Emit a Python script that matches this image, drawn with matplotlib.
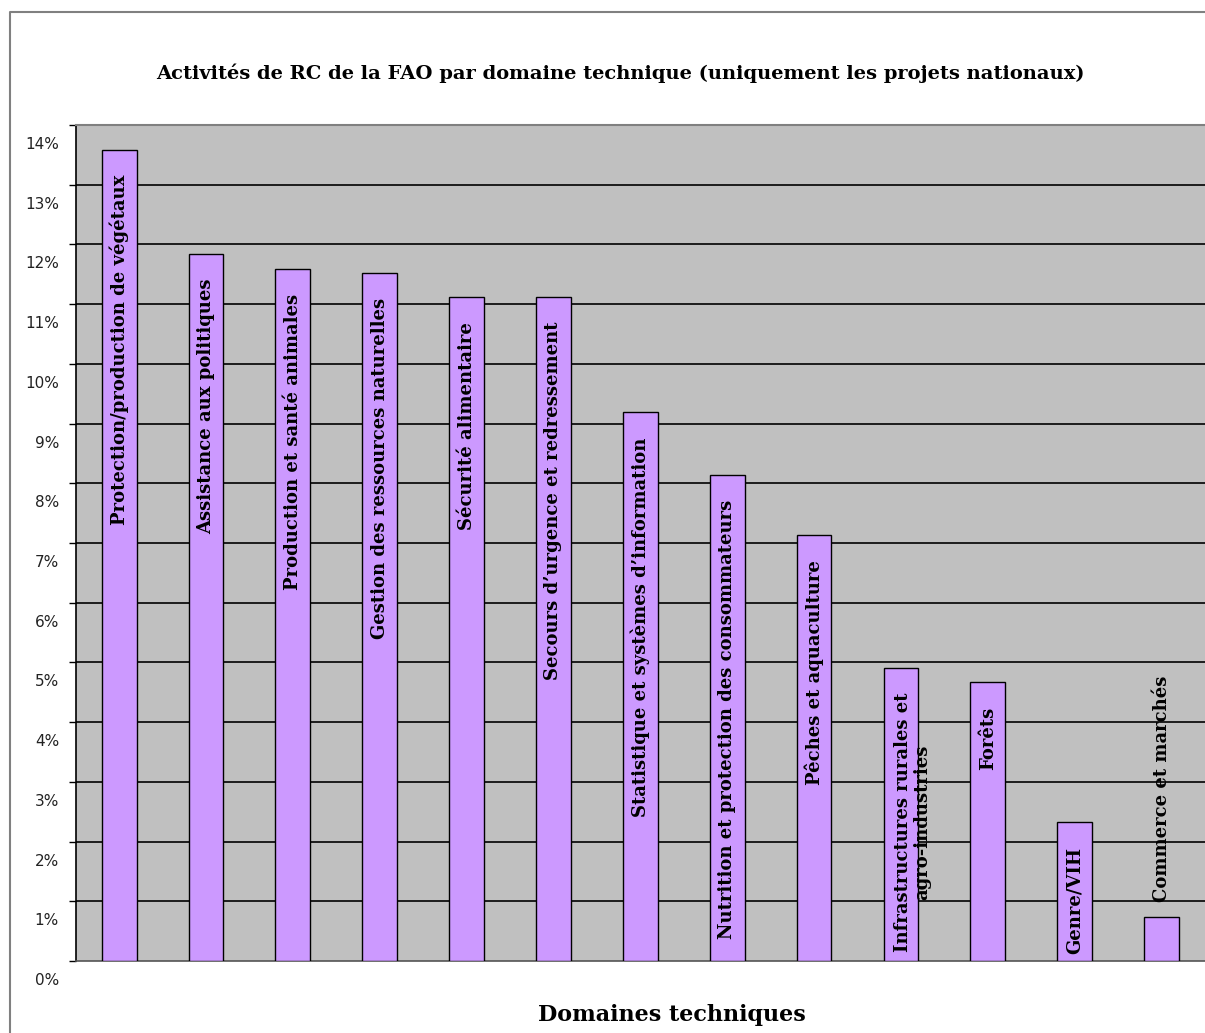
import matplotlib
matplotlib.use("Agg")
import matplotlib.pyplot as plt
from matplotlib.lines import Line2D
from matplotlib.transforms import ScaledTranslation
import numpy as np

categories = [
    "Protection/production de végétaux",
    "Assistance aux politiques",
    "Production et santé animales",
    "Gestion des ressources naturelles",
    "Sécurité alimentaire",
    "Secours d’urgence et redressement",
    "Statistique et systèmes d’information",
    "Nutrition et protection des consommateurs",
    "Pêches et aquaculture",
    "Infrastructures rurales et\nagro-industries",
    "Forêts",
    "Genre/VIH",
    "Commerce et marchés",
]
values = [13.58, 11.84, 11.59, 11.52, 11.12, 11.12, 9.19, 8.14, 7.13, 4.91, 4.67, 2.33, 0.73]
yticks = list(range(0, 15))
ytick_labels = [f"{t}%" for t in yticks]
title = "Activités de RC de la FAO par domaine technique (uniquement les projets nationaux)"
xlabel = "Domaines techniques"

W, H, DPI = 1205, 1033, 100
fig = plt.figure(figsize=(W / DPI, H / DPI), dpi=DPI)
fig.patch.set_facecolor("white")

ax = fig.add_axes([75.7 / W, 1 - 961 / H, 1 - 75.7 / W, (961 - 125) / H])
ax.set_facecolor("#C0C0C0")

x = np.arange(len(categories)) + 0.5
ax.bar(x, values, width=0.4, color="#CC99FF", edgecolor="black", linewidth=1.0, zorder=3)

ax.set_xlim(0, len(categories))
ax.set_ylim(0, 14)
ax.set_yticks(yticks)
ax.set_yticklabels(ytick_labels, fontsize=11, family="DejaVu Sans", color="#222222")
ax.set_xticks([])
for t in range(1, 14):
    ax.axhline(t, color="black", lw=1.2, zorder=1)
ax.tick_params(axis="y", direction="out", length=5, width=1, pad=7, color="black")
off = ScaledTranslation(0, -18 / DPI, fig.dpi_scale_trans)
for lab in ax.get_yticklabels():
    lab.set_transform(lab.get_transform() + off)

ax.spines["right"].set_visible(False)
ax.spines["top"].set_color("#808080")
ax.spines["top"].set_linewidth(1.5)
ax.spines["bottom"].set_color("#555555")
ax.spines["bottom"].set_linewidth(1.2)
ax.spines["left"].set_color("black")
ax.spines["left"].set_linewidth(1.2)

label_fs = 13
pad_pt = 18
texts = []
for xi, v, lab in zip(x, values, categories):
    n = lab.count("\n") + 1
    dx = (n - 1) * label_fs * 1.3 / 2
    t = ax.annotate(lab, xy=(xi, v), xytext=(dx, -pad_pt), textcoords="offset points",
                    rotation=90, ha="center", va="top", fontsize=label_fs,
                    fontweight="bold", family="DejaVu Serif", zorder=4,
                    linespacing=1.05)
    texts.append((t, xi, v, dx))

fig.canvas.draw()
renderer = fig.canvas.get_renderer()
for t, xi, v, dx in texts:
    bb = t.get_window_extent(renderer)
    y0 = ax.transData.transform((xi, 0))[1]
    if bb.y0 < y0 + 3:
        t.set_va("bottom")
        t.xyann = (dx, 11)

fig.text(620 / W, 1 - 73 / H, title, ha="center", va="center", fontsize=14,
         fontweight="bold", family="DejaVu Serif")
fig.text(672 / W, 1 - 1015 / H, xlabel, ha="center", va="center", fontsize=16,
         fontweight="bold", family="DejaVu Serif")

border = Line2D([10 / W, 10 / W, 1.0], [0, 1 - 12 / H, 1 - 12 / H], transform=fig.transFigure,
                color="#808080", lw=1.5)
fig.add_artist(border)

fig.savefig("out.png", dpi=DPI)
